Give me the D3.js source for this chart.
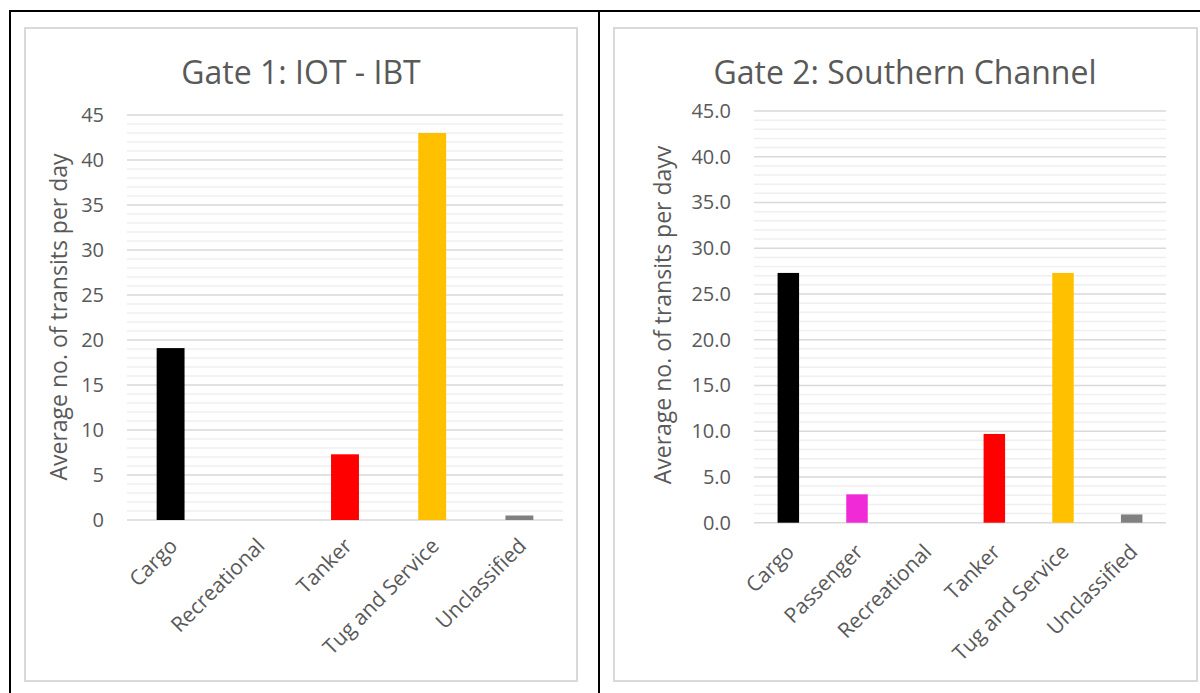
<!DOCTYPE html>
<html>
<head>
<meta charset="utf-8">
<script src="https://cdn.jsdelivr.net/npm/d3@7"></script>
<style>
  html, body { margin: 0; padding: 0; background: #ffffff; }
  svg { display: block; font-family: "Open Sans", "Noto Sans", sans-serif; }
</style>
</head>
<body>
<svg id="chart" width="1200" height="693"></svg>
<script>
// Average daily transits by vessel type at two gates
const gate1Title = "Gate 1: IOT - IBT";
const gate1Categories = ["Cargo", "Recreational", "Tanker", "Tug and Service", "Unclassified"];
const gate1Values = [19.1, 0, 7.3, 43.0, 0.5];
const gate1Ticks = [0, 5, 10, 15, 20, 25, 30, 35, 40, 45];
const gate1YLabel = "Average no. of transits per day";

const gate2Title = "Gate 2: Southern Channel";
const gate2Categories = ["Cargo", "Passenger", "Recreational", "Tanker", "Tug and Service", "Unclassified"];
const gate2Values = [27.3, 3.1, 0, 9.7, 27.3, 0.9];
const gate2Ticks = [0, 5, 10, 15, 20, 25, 30, 35, 40, 45];
const gate2YLabel = "Average no. of transits per dayv";

const typeColors = {
  "Cargo": "#000000",
  "Passenger": "#f02ad6",
  "Recreational": "#5b9bd5",
  "Tanker": "#ff0000",
  "Tug and Service": "#ffc000",
  "Unclassified": "#808080"
};

const svg = d3.select("#chart");
const textColor = "#595959";

// Table borders
svg.append("line").attr("x1", 9).attr("x2", 1200).attr("y1", 11).attr("y2", 11)
  .attr("stroke", "#000").attr("stroke-width", 2);
svg.append("line").attr("x1", 10).attr("x2", 10).attr("y1", 10).attr("y2", 693)
  .attr("stroke", "#000").attr("stroke-width", 2);
svg.append("line").attr("x1", 599).attr("x2", 599).attr("y1", 10).attr("y2", 693)
  .attr("stroke", "#000").attr("stroke-width", 2);

function drawPanel(cfg) {
  const g = svg.append("g");

  // chart area frame
  g.append("rect")
    .attr("x", cfg.frame[0]).attr("y", cfg.frame[1])
    .attr("width", cfg.frame[2]).attr("height", cfg.frame[3])
    .attr("fill", "#fff").attr("stroke", "#d9d9d9").attr("stroke-width", 2);

  const y = d3.scaleLinear().domain([0, 45]).range([cfg.plot.bottom, cfg.plot.top]);
  const x = d3.scaleBand().domain(cfg.categories)
    .range([cfg.plot.left, cfg.plot.right])
    .paddingInner(cfg.padInner).paddingOuter(cfg.padInner / 2);

  // minor gridlines every 1 unit
  const minor = d3.range(1, 45).filter(v => v % 5 !== 0);
  g.append("g").selectAll("line").data(minor).join("line")
    .attr("x1", cfg.plot.left).attr("x2", cfg.plot.right)
    .attr("y1", d => y(d)).attr("y2", d => y(d))
    .attr("stroke", "#efefef").attr("stroke-width", 1.5);

  // major gridlines every 5 units
  g.append("g").selectAll("line").data(cfg.ticks).join("line")
    .attr("x1", cfg.plot.left).attr("x2", cfg.plot.right)
    .attr("y1", d => y(d)).attr("y2", d => y(d))
    .attr("stroke", "#d9d9d9").attr("stroke-width", 1.5);

  // bars
  g.append("g").selectAll("rect").data(cfg.values).join("rect")
    .attr("x", (d, i) => x(cfg.categories[i]))
    .attr("width", x.bandwidth())
    .attr("y", d => y(d))
    .attr("height", d => y(0) - y(d))
    .attr("fill", (d, i) => typeColors[cfg.categories[i]]);

  // y axis labels
  const yAxis = d3.axisLeft(y).tickValues(cfg.ticks).tickSize(0).tickPadding(0)
    .tickFormat(cfg.fmt);
  const ya = g.append("g").attr("transform", `translate(${cfg.tickX},0)`).call(yAxis);
  ya.select(".domain").remove();
  ya.selectAll("text").attr("fill", textColor).attr("font-size", 20)
    .attr("font-family", "Open Sans");

  // x axis labels, rotated
  const xAxis = d3.axisBottom(x).tickSize(0).tickPadding(0);
  const xa = g.append("g").attr("transform", `translate(0,${cfg.labelY})`).call(xAxis);
  xa.select(".domain").remove();
  xa.selectAll("text")
    .attr("fill", textColor).attr("font-size", 21).attr("font-family", "Open Sans")
    .attr("text-anchor", "end")
    .attr("x", 0).attr("y", 0).attr("dy", "0.35em")
    .attr("transform", `translate(${cfg.labelDX},0) rotate(-45)`);

  // title
  g.append("text")
    .attr("x", cfg.titleX).attr("y", cfg.titleY)
    .attr("text-anchor", "middle").attr("dy", "0.35em")
    .attr("fill", textColor).attr("font-size", 32)
    .text(cfg.title);

  // y axis title
  g.append("text")
    .attr("transform", `translate(${cfg.yLabelX},${cfg.yLabelY}) rotate(-90)`)
    .attr("text-anchor", "middle").attr("dy", "0.35em")
    .attr("fill", textColor).attr("font-size", 23)
    .text(cfg.yLabel);
}

drawPanel({
  frame: [25, 28, 552, 653],
  plot: { left: 127, right: 563, top: 115, bottom: 520 },
  padInner: 0.68,
  categories: gate1Categories,
  values: gate1Values,
  ticks: gate1Ticks,
  fmt: d3.format("d"),
  tickX: 104,
  labelY: 542,
  labelDX: 3,
  title: gate1Title,
  titleX: 301, titleY: 73,
  yLabel: gate1YLabel,
  yLabelX: 59, yLabelY: 317
});

drawPanel({
  frame: [614, 28, 583, 653],
  plot: { left: 754, right: 1166, top: 111, bottom: 522.7 },
  padInner: 0.687,
  categories: gate2Categories,
  values: gate2Values,
  ticks: gate2Ticks,
  fmt: d3.format(".1f"),
  tickX: 731,
  labelY: 548,
  labelDX: 2,
  title: gate2Title,
  titleX: 905, titleY: 73,
  yLabel: gate2YLabel,
  yLabelX: 663, yLabelY: 315
});
</script>
</body>
</html>
